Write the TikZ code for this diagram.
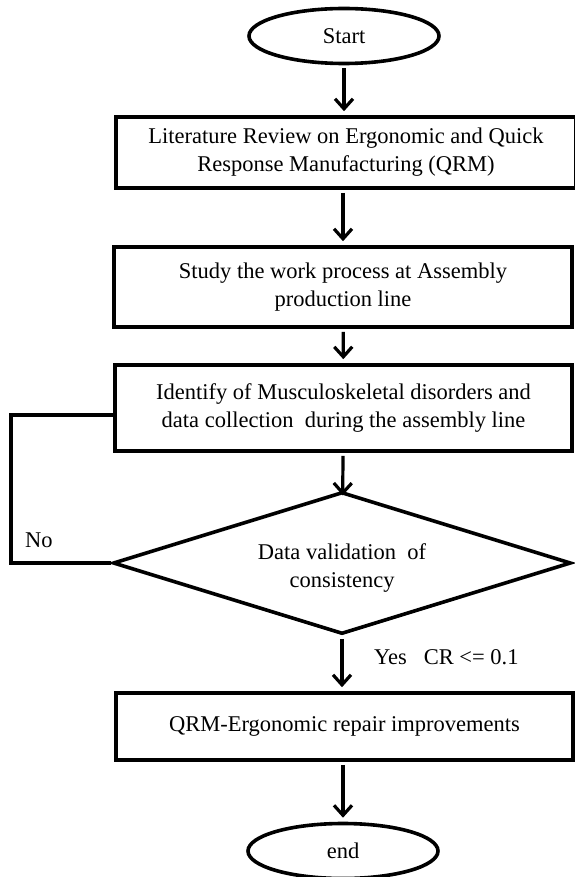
\documentclass[tikz,border=0pt]{standalone}
\usepackage{fontspec}
\setmainfont{Liberation Serif}
\usepackage{tikz}
\usetikzlibrary{arrows.meta,shapes.geometric,positioning}

\begin{document}
\begin{tikzpicture}[x=1pt,y=-1pt,
        font=\fontsize{22.5}{28}\selectfont,
        box/.style={draw, rectangle, line width=3.6pt, align=center, inner sep=0pt},
        term/.style={draw, ellipse, line width=3.6pt, minimum width=190pt, minimum height=55pt},
        decide/.style={draw, diamond, aspect=3.2, line width=3.6pt, inner sep=0pt, align=center, minimum width=458pt, minimum height=142pt},
        flow/.style={-{Straight Barb[length=10pt,width=18pt]}, line width=3.2pt, shorten >=4pt, shorten <=3pt},
        back/.style={-, line width=3.6pt},
        lbl/.style={anchor=west, inner sep=0pt}]
        \useasboundingbox (0,0) rectangle (574,877);

        \node[term] (start) at (344,36) {Start};
        \node[box, minimum width=460pt, minimum height=71pt] (lit) at (346,152.5) {Literature Review on Ergonomic and Quick\\Response Manufacturing (QRM)};
        \node[box, minimum width=458pt, minimum height=80pt] (study) at (343,287) {Study the work process at Assembly\\production line};
        \node[box, minimum width=457pt, minimum height=86pt] (ident) at (343.5,408) {Identify of Musculoskeletal disorders and\\data collection\ \ during the assembly line};
        \node[decide] (valid) at (342,563) {\rule{0pt}{26pt}Data validation\ \ of\\consistency};
        \node[box, minimum width=457pt, minimum height=67pt] (qrm) at (344.5,726.5) {QRM-Ergonomic repair improvements};
        \node[term] (stop) at (343,851) {end};

        \draw[flow] (start) -- (start |- lit.north);
        \draw[flow] (lit.south -| study) -- (study);
        \draw[flow] (study) -- (ident);
        \draw[flow, shorten >=-5pt] (ident) -- (valid);
        \draw[flow] (valid) -- (valid |- qrm.north);
        \draw[flow] (qrm.south -| stop) -- (stop);

        % the No branch goes back up to the box above
        \coordinate (nocorner) at (11,563);
        \draw[back] (valid.west) -- (nocorner) |- ([yshift=-7pt]ident.west);

        \node[lbl] (nolbl) at (25,540) {No};
        \node[lbl] (yeslbl) at (374,657) {Yes\ \ \ CR <= 0.1};
    \end{tikzpicture}
\end{document}
